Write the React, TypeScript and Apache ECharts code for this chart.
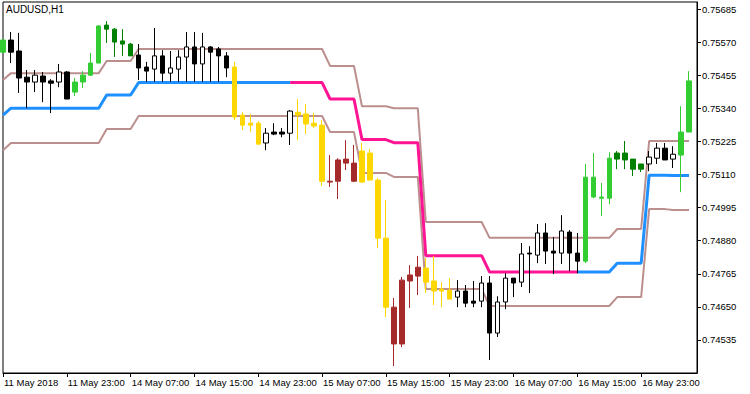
import React, { useEffect, useRef } from "react";
import * as echarts from "echarts";

// Hourly bars, AUDUSD H1 (last slot is empty space at the right edge)
const categories = [
  "11 May 15:00", "11 May 16:00", "11 May 17:00", "11 May 18:00", "11 May 19:00", "11 May 20:00", "11 May 21:00", "11 May 22:00", "11 May 23:00",
  "14 May 00:00", "14 May 01:00", "14 May 02:00", "14 May 03:00", "14 May 04:00", "14 May 05:00", "14 May 06:00", "14 May 07:00",
  "14 May 08:00", "14 May 09:00", "14 May 10:00", "14 May 11:00", "14 May 12:00", "14 May 13:00", "14 May 14:00", "14 May 15:00",
  "14 May 16:00", "14 May 17:00", "14 May 18:00", "14 May 19:00", "14 May 20:00", "14 May 21:00", "14 May 22:00", "14 May 23:00",
  "15 May 00:00", "15 May 01:00", "15 May 02:00", "15 May 03:00", "15 May 04:00", "15 May 05:00", "15 May 06:00", "15 May 07:00",
  "15 May 08:00", "15 May 09:00", "15 May 10:00", "15 May 11:00", "15 May 12:00", "15 May 13:00", "15 May 14:00", "15 May 15:00",
  "15 May 16:00", "15 May 17:00", "15 May 18:00", "15 May 19:00", "15 May 20:00", "15 May 21:00", "15 May 22:00", "15 May 23:00",
  "16 May 00:00", "16 May 01:00", "16 May 02:00", "16 May 03:00", "16 May 04:00", "16 May 05:00", "16 May 06:00", "16 May 07:00",
  "16 May 08:00", "16 May 09:00", "16 May 10:00", "16 May 11:00", "16 May 12:00", "16 May 13:00", "16 May 14:00", "16 May 15:00",
  "16 May 16:00", "16 May 17:00", "16 May 18:00", "16 May 19:00", "16 May 20:00", "16 May 21:00", "16 May 22:00", "16 May 23:00",
  "17 May 00:00", "17 May 01:00", "17 May 02:00", "17 May 03:00", "17 May 04:00", "17 May 05:00", "17 May 06:00",
];
const firstLabel = "11 May 2018";
const title = "AUDUSD,H1";

const opens = [
  0.75536, 0.75578, 0.75540, 0.75449, 0.75432, 0.75453, 0.75436, 0.75432, 0.75467, 0.75397,
  0.75432, 0.75456, 0.75498, 0.75630, 0.75616, 0.75575, 0.75564, 0.75526, 0.75484, 0.75477,
  0.75523, 0.75463, 0.75477, 0.75519, 0.75554, 0.75495, 0.75554, 0.75547, 0.75523, 0.75484,
  0.75317, 0.75289, 0.75289, 0.75220, 0.75258, 0.75258, 0.75254, 0.75327, 0.75321, 0.75289,
  0.75282, 0.75084, 0.75087, 0.75150, 0.75087, 0.75192, 0.75185, 0.75091, 0.74889, 0.74649,
  0.74521, 0.74740, 0.74757, 0.74785, 0.74740, 0.74712, 0.74708, 0.74684, 0.74705, 0.74670,
  0.74670, 0.74733, 0.74559, 0.74667, 0.74750, 0.74736, 0.74837, 0.74830, 0.74907, 0.74844,
  0.74837, 0.74910, 0.74837, 0.74809, 0.75032, 0.75032, 0.75028, 0.75185, 0.75185, 0.75164,
  0.75147, 0.75147, 0.75167, 0.75202, 0.75164, 0.75178, 0.75258,
];
const highs = [
  0.75582, 0.75606, 0.75603, 0.75474, 0.75474, 0.75467, 0.75442, 0.75495, 0.75470, 0.75446,
  0.75470, 0.75533, 0.75630, 0.75644, 0.75620, 0.75616, 0.75568, 0.75564, 0.75502, 0.75620,
  0.75543, 0.75540, 0.75543, 0.75606, 0.75606, 0.75603, 0.75557, 0.75554, 0.75536, 0.75502,
  0.75327, 0.75321, 0.75296, 0.75272, 0.75289, 0.75272, 0.75334, 0.75373, 0.75355, 0.75324,
  0.75300, 0.75178, 0.75167, 0.75230, 0.75213, 0.75220, 0.75199, 0.75098, 0.75021, 0.74681,
  0.74754, 0.74795, 0.74827, 0.74820, 0.74827, 0.74736, 0.74750, 0.74743, 0.74726, 0.74740,
  0.74757, 0.74757, 0.74687, 0.74767, 0.74750, 0.74872, 0.74861, 0.74938, 0.74941, 0.74893,
  0.74969, 0.74917, 0.74907, 0.75147, 0.75185, 0.75081, 0.75188, 0.75192, 0.75227, 0.75164,
  0.75147, 0.75192, 0.75220, 0.75220, 0.75209, 0.75348, 0.75470,
];
const lows = [
  0.75533, 0.75498, 0.75394, 0.75341, 0.75397, 0.75362, 0.75324, 0.75414, 0.75373, 0.75383,
  0.75411, 0.75453, 0.75498, 0.75568, 0.75519, 0.75523, 0.75523, 0.75439, 0.75432, 0.75432,
  0.75432, 0.75432, 0.75432, 0.75432, 0.75432, 0.75432, 0.75432, 0.75432, 0.75449, 0.75300,
  0.75265, 0.75258, 0.75216, 0.75195, 0.75247, 0.75240, 0.75213, 0.75230, 0.75251, 0.75272,
  0.75070, 0.75067, 0.75025, 0.75126, 0.75084, 0.75081, 0.75091, 0.74854, 0.74614, 0.74444,
  0.74510, 0.74646, 0.74691, 0.74698, 0.74656, 0.74649, 0.74677, 0.74649, 0.74649, 0.74649,
  0.74649, 0.74465, 0.74545, 0.74642, 0.74684, 0.74719, 0.74698, 0.74802, 0.74799, 0.74764,
  0.74799, 0.74774, 0.74767, 0.74802, 0.75028, 0.74966, 0.75007, 0.75129, 0.75129, 0.75105,
  0.75119, 0.75122, 0.75147, 0.75161, 0.75133, 0.75049, 0.75258,
];
const closes = [
  0.75578, 0.75536, 0.75446, 0.75432, 0.75456, 0.75432, 0.75428, 0.75467, 0.75373, 0.75432,
  0.75456, 0.75498, 0.75627, 0.75616, 0.75571, 0.75564, 0.75523, 0.75481, 0.75470, 0.75523,
  0.75463, 0.75481, 0.75519, 0.75554, 0.75495, 0.75554, 0.75536, 0.75523, 0.75481, 0.75310,
  0.75282, 0.75282, 0.75216, 0.75254, 0.75251, 0.75251, 0.75331, 0.75317, 0.75286, 0.75279,
  0.75087, 0.75087, 0.75161, 0.75164, 0.75150, 0.75084, 0.75091, 0.74889, 0.74649, 0.74521,
  0.74743, 0.74761, 0.74788, 0.74736, 0.74705, 0.74705, 0.74677, 0.74705, 0.74663, 0.74663,
  0.74733, 0.74559, 0.74667, 0.74750, 0.74733, 0.74834, 0.74834, 0.74907, 0.74844, 0.74837,
  0.74914, 0.74837, 0.74809, 0.75101, 0.75101, 0.75028, 0.75167, 0.75164, 0.75161, 0.75129,
  0.75129, 0.75171, 0.75202, 0.75161, 0.75181, 0.75258, 0.75436,
];
// Candle state: A = uptrend strong, a = uptrend weak, V = downtrend strong,
// v = downtrend weak, + = no trend bullish, - = no trend bearish
const candleState = [
  "A", "-", "-", "-", "+", "-", "-", "+", "-", "A",
  "A", "A", "A", "a", "a", "a", "a", "-", "-", "+",
  "-", "+", "+", "+", "-", "+", "-", "-", "-", "V",
  "V", "V", "V", "+", "-", "-", "+", "V", "V", "V",
  "V", "v", "v", "v", "v", "V", "V", "V", "V", "v",
  "v", "v", "v", "V", "V", "V", "V", "+", "-", "-",
  "+", "-", "+", "+", "-", "+", "-", "+", "-", "-",
  "+", "-", "-", "A", "A", "A", "A", "a", "a", "a",
  "a", "+", "+", "-", "+", "A", "A",
];

const upperBand = [
  0.75439, 0.75463, 0.75463, 0.75463, 0.75463, 0.75463, 0.75463, 0.75463, 0.75463, 0.75463,
  0.75463, 0.75463, 0.75463, 0.75505, 0.75505, 0.75505, 0.75505, 0.75547, 0.75547, 0.75547,
  0.75547, 0.75547, 0.75547, 0.75547, 0.75547, 0.75547, 0.75547, 0.75547, 0.75547, 0.75547,
  0.75547, 0.75547, 0.75547, 0.75547, 0.75547, 0.75547, 0.75547, 0.75547, 0.75547, 0.75547,
  0.75547, 0.75488, 0.75488, 0.75488, 0.75488, 0.75348, 0.75348, 0.75348, 0.75348, 0.75341,
  0.75341, 0.75341, 0.75341, 0.74945, 0.74945, 0.74945, 0.74945, 0.74945, 0.74945, 0.74945,
  0.74945, 0.74890, 0.74890, 0.74890, 0.74890, 0.74890, 0.74890, 0.74890, 0.74890, 0.74890,
  0.74890, 0.74890, 0.74890, 0.74890, 0.74890, 0.74890, 0.74890, 0.74921, 0.74921, 0.74921,
  0.74921, 0.75227, 0.75227, 0.75227, 0.75227, 0.75227, 0.75227,
];
const middleLine = [
  0.75317, 0.75341, 0.75341, 0.75341, 0.75341, 0.75341, 0.75341, 0.75341, 0.75341, 0.75341,
  0.75341, 0.75341, 0.75341, 0.75387, 0.75387, 0.75387, 0.75387, 0.75430, 0.75430, 0.75430,
  0.75430, 0.75430, 0.75430, 0.75430, 0.75430, 0.75430, 0.75430, 0.75430, 0.75430, 0.75430,
  0.75430, 0.75430, 0.75430, 0.75430, 0.75430, 0.75430, 0.75430, 0.75430, 0.75430, 0.75430,
  0.75430, 0.75373, 0.75373, 0.75373, 0.75373, 0.75232, 0.75232, 0.75232, 0.75232, 0.75221,
  0.75221, 0.75221, 0.75221, 0.74828, 0.74828, 0.74828, 0.74828, 0.74828, 0.74828, 0.74828,
  0.74828, 0.74771, 0.74771, 0.74771, 0.74771, 0.74771, 0.74771, 0.74771, 0.74771, 0.74771,
  0.74771, 0.74771, 0.74771, 0.74771, 0.74771, 0.74771, 0.74771, 0.74802, 0.74802, 0.74802,
  0.74802, 0.75108, 0.75108, 0.75108, 0.75107, 0.75107, 0.75107,
];
const lowerBand = [
  0.75195, 0.75220, 0.75220, 0.75220, 0.75220, 0.75220, 0.75220, 0.75220, 0.75220, 0.75220,
  0.75220, 0.75220, 0.75220, 0.75269, 0.75269, 0.75269, 0.75269, 0.75314, 0.75314, 0.75314,
  0.75314, 0.75314, 0.75314, 0.75314, 0.75314, 0.75314, 0.75314, 0.75314, 0.75314, 0.75314,
  0.75314, 0.75314, 0.75314, 0.75314, 0.75314, 0.75314, 0.75314, 0.75314, 0.75314, 0.75314,
  0.75314, 0.75258, 0.75258, 0.75258, 0.75258, 0.75116, 0.75116, 0.75116, 0.75116, 0.75102,
  0.75102, 0.75102, 0.75102, 0.74712, 0.74712, 0.74712, 0.74712, 0.74712, 0.74712, 0.74712,
  0.74712, 0.74653, 0.74653, 0.74653, 0.74653, 0.74653, 0.74653, 0.74653, 0.74653, 0.74653,
  0.74653, 0.74653, 0.74653, 0.74653, 0.74653, 0.74653, 0.74653, 0.74684, 0.74684, 0.74684,
  0.74684, 0.74990, 0.74990, 0.74990, 0.74987, 0.74987, 0.74987,
];
// Middle line trend colour per bar: 1 = up (blue), -1 = down (pink)
const middleTrend = [
  1, 1, 1, 1, 1, 1, 1, 1, 1, 1, 1, 1, 1, 1, 1, 1, 1, 1, 1, 1,
  1, 1, 1, 1, 1, 1, 1, 1, 1, 1, 1, 1, 1, 1, 1, 1, 1, -1, -1, -1,
  -1, -1, -1, -1, -1, -1, -1, -1, -1, -1, -1, -1, -1, -1, -1, -1, -1, -1, -1, -1,
  -1, -1, -1, -1, -1, -1, -1, -1, -1, -1, -1, -1, -1, 1, 1, 1, 1, 1, 1, 1,
  1, 1, 1, 1, 1, 1, 1,
];

const yTicks = [0.74535, 0.7465, 0.74765, 0.7488, 0.74995, 0.7511, 0.75225, 0.7534, 0.75455, 0.7557, 0.75685];
const yMin = 0.7442;
const yMax = 0.757104;

const FONT = "Liberation Sans";

const stateStyle: Record<string, { fill: string; stroke: string }> = {
  A: { fill: "#32CD32", stroke: "#32CD32" },
  a: { fill: "#008000", stroke: "#008000" },
  V: { fill: "#FFD700", stroke: "#FFD700" },
  v: { fill: "#A52A2A", stroke: "#A52A2A" },
  "+": { fill: "#FFFFFF", stroke: "#000000" },
  "-": { fill: "#000000", stroke: "#000000" },
};

function buildOption() {
  const candleData = opens.map((o, i) => {
    const s = stateStyle[candleState[i]];
    return {
      value: [o, closes[i], lows[i], highs[i]],
      itemStyle: { color: s.fill, color0: s.fill, borderColor: s.stroke, borderColor0: s.stroke, borderWidth: 1 },
    };
  });
  const segData = (c: number) =>
    middleLine.map((v, i) =>
      middleTrend[i] === c || (i + 1 < middleTrend.length && middleTrend[i + 1] === c) ? v : null
    );
  const show8 = (i: number) => i % 8 === 0;

  return {
    animation: false,
    backgroundColor: "#ffffff",
    graphic: [
      {
        type: "text",
        left: 6,
        top: 4,
        z: 100,
        style: { text: title, font: `10px "${FONT}"`, fill: "#000" },
      },
    ],
    grid: {
      left: 3,
      right: 53,
      top: 2,
      bottom: 21,
      show: true,
      borderColor: "#000",
      borderWidth: 1,
      backgroundColor: "#fff",
      containLabel: false,
    },
    xAxis: {
      type: "category",
      data: categories,
      boundaryGap: false,
      axisLine: { show: true, lineStyle: { color: "#000", width: 1 } },
      axisTick: { show: true, length: 4, interval: show8, lineStyle: { color: "#000" } },
      axisLabel: {
        interval: show8,
        align: "left",
        margin: 4,
        color: "#000",
        fontSize: 9.5,
        fontFamily: FONT,
        formatter: (v: string, i: number) => (i === 0 ? firstLabel : v),
        padding: [0, 0, 0, 1],
      },
      splitLine: { show: false },
    },
    yAxis: {
      type: "value",
      position: "right",
      min: yMin,
      max: yMax,
      axisLine: { show: true, lineStyle: { color: "#000", width: 1 } },
      axisTick: { show: true, length: 4, customValues: yTicks, lineStyle: { color: "#000" } },
      axisLabel: {
        customValues: yTicks,
        margin: 5,
        color: "#000",
        fontSize: 9.5,
        fontFamily: FONT,
        formatter: (v: number) => v.toFixed(5),
      },
      splitLine: { show: false },
    },
    series: [
      {
        name: "Upper",
        type: "line",
        data: upperBand,
        showSymbol: false,
        symbol: "none",
        lineStyle: { color: "#BC8F8F", width: 2 },
        z: 2,
      },
      {
        name: "Lower",
        type: "line",
        data: lowerBand,
        showSymbol: false,
        symbol: "none",
        lineStyle: { color: "#BC8F8F", width: 2 },
        z: 2,
      },
      {
        name: "MiddleUp",
        type: "line",
        data: segData(1),
        showSymbol: false,
        symbol: "none",
        connectNulls: false,
        lineStyle: { color: "#1E90FF", width: 3 },
        z: 3,
      },
      {
        name: "MiddleDown",
        type: "line",
        data: segData(-1),
        showSymbol: false,
        symbol: "none",
        connectNulls: false,
        lineStyle: { color: "#FF1493", width: 3 },
        z: 3,
      },
      {
        name: "Price",
        type: "candlestick",
        data: candleData,
        barWidth: 5,
        clip: true,
        z: 5,
      },
    ],
  };
}

export default function App() {
  const ref = useRef<HTMLDivElement>(null);
  useEffect(() => {
    if (!ref.current) return;
    const chart = echarts.init(ref.current, null, { renderer: "svg" });
    chart.setOption(buildOption() as any);
    return () => chart.dispose();
  }, []);
  return (
    <div
      ref={ref}
      style={{ position: "fixed", left: 0, top: 0, width: 750, height: 394, background: "#fff" }}
    />
  );
}
